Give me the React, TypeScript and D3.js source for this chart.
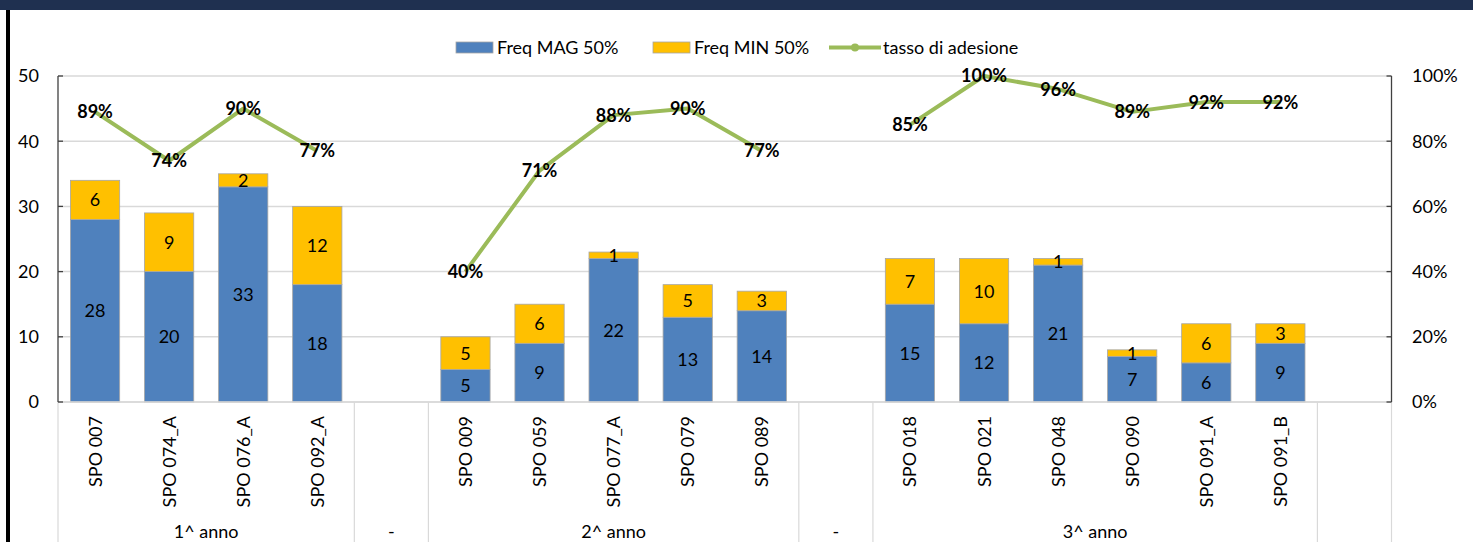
import React from "react";
import * as d3 from "d3";

const categories = ["SPO 007", "SPO 074_A", "SPO 076_A", "SPO 092_A", "", "SPO 009", "SPO 059", "SPO 077_A", "SPO 079", "SPO 089", "", "SPO 018", "SPO 021", "SPO 048", "SPO 090", "SPO 091_A", "SPO 091_B", ""];
const groupLabels = ["1^ anno", "-", "2^ anno", "-", "3^ anno", ""];
const groupSizes = [4, 1, 5, 1, 6, 1];
const freqMag: (number | null)[] = [28, 20, 33, 18, null, 5, 9, 22, 13, 14, null, 15, 12, 21, 7, 6, 9, null];
const freqMin: (number | null)[] = [6, 9, 2, 12, null, 5, 6, 1, 5, 3, null, 7, 10, 1, 1, 6, 3, null];
const tasso: (number | null)[] = [0.89, 0.74, 0.9, 0.77, null, 0.4, 0.71, 0.88, 0.9, 0.77, null, 0.85, 1.0, 0.96, 0.89, 0.92, 0.92, null];
const leftTicks = [0, 10, 20, 30, 40, 50];
const rightTicks = [0, 0.2, 0.4, 0.6, 0.8, 1.0];
const seriesNames = ["Freq MAG 50%", "Freq MIN 50%", "tasso di adesione"];

const W = 1482;
const H = 542;
const FONT = "Lato, 'Open Sans', sans-serif";
const BLUE = "#4F81BD";
const YELLOW = "#FFC000";
const GREEN = "#9BBB59";
const GRID = "#D9D9D9";
const AXIS = "#404040";

export default function App() {
  const left = 58;
  const right = 1391.5;
  const top = 76;
  const bottom = 402;

  const x = d3.scaleBand<number>().domain(categories.map((_, i) => i)).range([left, right]).padding(0);
  const bw = x.bandwidth();
  const barW = bw * 0.665;
  const y = d3.scaleLinear().domain([0, 50]).range([bottom, top]);
  const y2 = d3.scaleLinear().domain([0, 1]).range([bottom, top]);
  const cx = (i: number) => (x(i) as number) + bw / 2;

  const line = d3
    .line<number | null>()
    .defined((d) => d != null)
    .x((_, i) => cx(i))
    .y((d) => y2(d as number));

  const bounds: number[] = [0];
  groupSizes.forEach((s) => bounds.push(bounds[bounds.length - 1] + s));
  const boundX = (k: number) => (k < categories.length ? (x(k) as number) : right);

  const fs = 18;

  return (
    <svg width={W} height={H} style={{ position: "absolute", left: 0, top: 0, background: "#fff" }} fontFamily={FONT}>
      <rect x={0} y={0} width={W} height={H} fill="#fff" />
      <rect x={0} y={0} width={1473} height={10} fill="#1F3050" />
      <rect x={6} y={10} width={4} height={H - 10} fill="#000" />

      {leftTicks.map((t) => (
        <line key={"g" + t} x1={left} x2={right} y1={y(t)} y2={y(t)} stroke={GRID} strokeWidth={1.5} />
      ))}

      {bounds.map((k) => (
        <line key={"s" + k} x1={boundX(k)} x2={boundX(k)} y1={bottom} y2={H} stroke={GRID} strokeWidth={1.2} />
      ))}

      {categories.map((_, i) => {
        const m = freqMag[i];
        const n = freqMin[i];
        if (m == null || n == null) return null;
        const bx = cx(i) - barW / 2;
        return (
          <g key={"b" + i}>
            <rect x={bx} y={y(m)} width={barW} height={y(0) - y(m)} fill={BLUE} stroke="#A6A6A6" strokeWidth={0.8} />
            <rect x={bx} y={y(m + n)} width={barW} height={y(m) - y(m + n)} fill={YELLOW} stroke="#A6A6A6" strokeWidth={0.8} />
          </g>
        );
      })}

      {categories.map((_, i) => {
        const m = freqMag[i];
        const n = freqMin[i];
        if (m == null || n == null) return null;
        return (
          <g key={"bl" + i} fontSize={fs} fill="#000" textAnchor="middle">
            <text x={cx(i)} y={y(m / 2)} dy="0.36em">{m}</text>
            <text x={cx(i)} y={y(m + n / 2)} dy="0.36em">{n}</text>
          </g>
        );
      })}

      <line x1={left} x2={right} y1={bottom} y2={bottom} stroke={GRID} strokeWidth={1.5} />
      <line x1={left} x2={left} y1={top} y2={bottom} stroke={AXIS} strokeWidth={1.3} />
      {leftTicks.map((t) => (
        <line key={"lt" + t} x1={left} x2={left + 5} y1={y(t)} y2={y(t)} stroke={AXIS} strokeWidth={1.3} />
      ))}
      <line x1={right} x2={right} y1={top} y2={bottom} stroke={AXIS} strokeWidth={1.3} />
      {rightTicks.map((t) => (
        <line key={"rt" + t} x1={right - 5} x2={right} y1={y2(t)} y2={y2(t)} stroke={AXIS} strokeWidth={1.3} />
      ))}
      {leftTicks.map((t) => (
        <text key={"ll" + t} x={39} y={y(t)} dy="0.36em" textAnchor="end" fontSize={fs} fill="#000">{t}</text>
      ))}
      {rightTicks.map((t) => (
        <text key={"rl" + t} x={1412} y={y2(t)} dy="0.36em" textAnchor="start" fontSize={fs} fill="#000">{d3.format(".0%")(t)}</text>
      ))}

      <path d={line(tasso) || ""} fill="none" stroke={GREEN} strokeWidth={4} strokeLinejoin="round" />
      {tasso.map((v, i) =>
        v == null ? null : (
          <text key={"pl" + i} x={cx(i)} y={y2(v)} dy="0.36em" textAnchor="middle" fontSize={fs} fontWeight="bold" fill="#000">
            {d3.format(".0%")(v)}
          </text>
        )
      )}

      {categories.map((c, i) =>
        c ? (
          <text key={"c" + i} transform={`translate(${cx(i)},416) rotate(-90)`} dy="0.36em" textAnchor="end" fontSize={fs} fill="#000">
            {c}
          </text>
        ) : null
      )}
      {groupLabels.map((g, k) =>
        g ? (
          <text key={"gl" + k} x={(boundX(bounds[k]) + boundX(bounds[k + 1])) / 2} y={538} textAnchor="middle" fontSize={fs} fill="#000">
            {g}
          </text>
        ) : null
      )}

      <g fontSize={fs} fill="#000">
        <rect x={456} y={42} width={37} height={11} fill={BLUE} stroke="#A6A6A6" strokeWidth={0.8} />
        <text x={497} y={48} dy="0.36em">{seriesNames[0]}</text>
        <rect x={653} y={42} width={37} height={11} fill={YELLOW} stroke="#A6A6A6" strokeWidth={0.8} />
        <text x={694} y={48} dy="0.36em">{seriesNames[1]}</text>
        <line x1={829} x2={881} y1={47.5} y2={47.5} stroke={GREEN} strokeWidth={4} />
        <circle cx={855} cy={47.5} r={4} fill={GREEN} />
        <text x={883} y={48} dy="0.36em">{seriesNames[2]}</text>
      </g>
    </svg>
  );
}
